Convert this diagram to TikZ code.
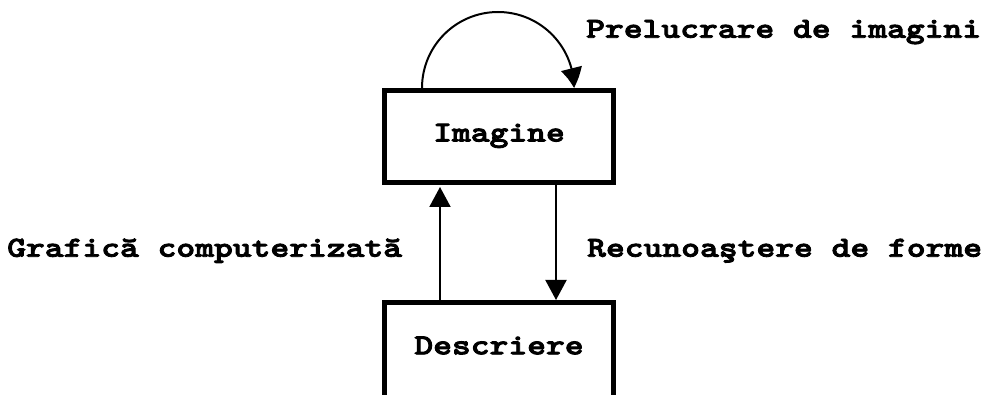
\documentclass[tikz,border=0pt]{standalone}
\usepackage{fontspec}
\usetikzlibrary{arrows.meta,bending}
% wide, heavy typewriter lettering
\newfontfamily\courfont{lmmonolt10-bold}[Extension=.otf, FakeStretch=1.235, FakeBold=3]
\newcommand{\labelfont}{\courfont\fontsize{29}{33}\selectfont}
\tikzset{
  box/.style={draw, line width=5pt, minimum width=229pt, minimum height=92pt,
              inner sep=0pt, font=\labelfont, text height=15pt, text depth=5pt},
  flow/.style={line width=2pt, -{Triangle[length=20pt,width=21pt]}},
  loopflow/.style={line width=2pt, -{Triangle[length=20pt,width=21pt,bend]}},
  lbl/.style={inner sep=0pt, font=\labelfont, anchor=base west}
}
\begin{document}
\begin{tikzpicture}[x=1pt,y=1pt]
  \useasboundingbox (0,0) rectangle (994,394);
  \clip (0,0) rectangle (994,394);
  \fill[white] (0,0) rectangle (994,394);

  % the two boxes (the lower one runs past the bottom edge)
  \node[box] (im) at (499,257.5) {Imagine};
  \node[box, minimum height=110pt, text depth=21.4pt] (de) at (499,36.5) {Descriere};

  % self loop on the image box
  \coordinate (loopstart) at ([xshift=-77pt]im.north);
  \draw[loopflow] (loopstart) arc[start angle=180, end angle=0, radius=76pt];

  % vertical connectors
  \draw[flow] (de.north -| 440,0) -- ([yshift=-2pt]im.south -| 440,0);
  \draw[flow] (im.south -| 556,0) -- (de.north -| 556,0);

  % labels
  \node[lbl] (lp) at (586,356.3) {Prelucrare de imagini};
  \node[lbl] (lg) at (7,137.3) {Grafică computerizată};
  \node[lbl] (lr) at (587,137.3) {Recunoaştere de forme};
\end{tikzpicture}
\end{document}
